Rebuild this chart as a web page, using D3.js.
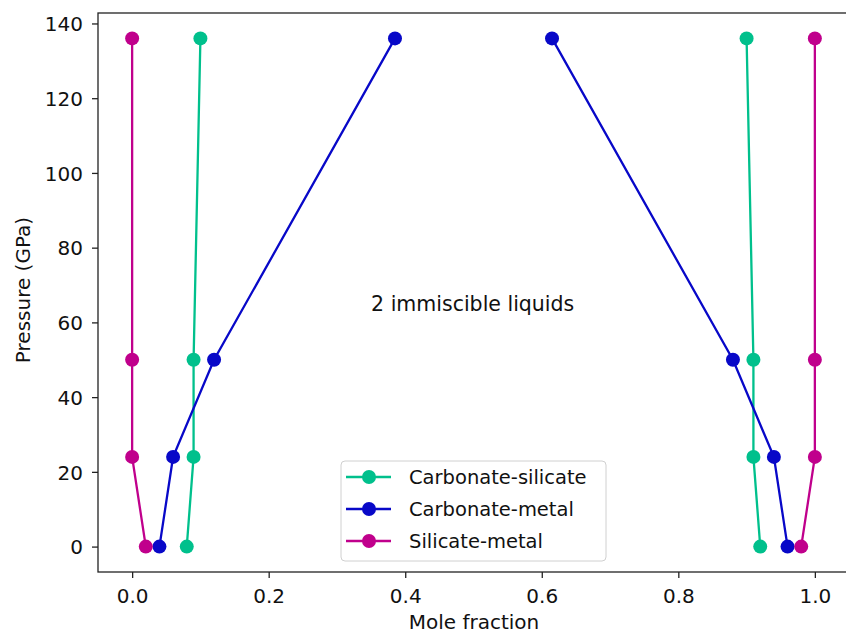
<!DOCTYPE html>
<html>
<head>
<meta charset="utf-8">
<script src="https://cdn.jsdelivr.net/npm/d3@7"></script>
<style>
body { margin: 0; background: #fff; }
text { font-family: "DejaVu Sans", sans-serif; }
</style>
</head>
<body>
<div class="canvas"></div>
<script>
// data
const pressure = [0, 24, 50, 136];
const seriesNames = ['Carbonate-silicate', 'Carbonate-metal', 'Silicate-metal'];
const carbSilLeft = [0.08, 0.09, 0.09, 0.10];
const carbSilRight = [0.92, 0.91, 0.91, 0.90];
const carbMetLeft = [0.04, 0.06, 0.12, 0.385];
const carbMetRight = [0.96, 0.94, 0.88, 0.615];
const silMetLeft = [0.02, 0.0, 0.0, 0.0];
const silMetRight = [0.98, 1.0, 1.0, 1.0];
const xTicks = [0.0, 0.2, 0.4, 0.6, 0.8, 1.0];
const yTicks = [0, 20, 40, 60, 80, 100, 120, 140];
const colors = ['#00c08c', '#0808c8', '#c0008c'];

// dimensions
const width = 846, height = 636;
const margin = {top: 13, right: -3, bottom: 64, left: 98};
const graphWidth = width - margin.left - margin.right;
const graphHeight = height - margin.top - margin.bottom;

const svg = d3.select('.canvas')
  .append('svg')
  .attr('width', width)
  .attr('height', height);

const graph = svg.append('g')
  .attr('transform', `translate(${margin.left},${margin.top})`);

// scales
const x = d3.scaleLinear().domain([-0.05, 1.05]).range([0, graphWidth]);
const y = d3.scaleLinear().domain([-6.8, 142.8]).range([graphHeight, 0]);

// frame
graph.append('rect')
  .attr('width', graphWidth)
  .attr('height', graphHeight)
  .attr('fill', 'none')
  .attr('stroke', '#222')
  .attr('stroke-width', 1.3);

// axes
const xAxis = d3.axisBottom(x).tickValues(xTicks).tickFormat(d3.format('.1f')).tickSize(6).tickSizeOuter(0);
const yAxis = d3.axisLeft(y).tickValues(yTicks).tickFormat(d3.format('d')).tickSize(6).tickSizeOuter(0);

const xAxisGroup = graph.append('g')
  .attr('transform', `translate(0,${graphHeight})`)
  .call(xAxis);
const yAxisGroup = graph.append('g').call(yAxis);

[xAxisGroup, yAxisGroup].forEach(g => {
  g.select('.domain').remove();
  g.selectAll('line').attr('stroke', '#222').attr('stroke-width', 1.3);
  g.selectAll('text').attr('fill', '#111').style('font-size', '20px').style('font-family', '"DejaVu Sans", sans-serif');
});
xAxisGroup.selectAll('text').attr('y', 31).attr('dy', 0);
yAxisGroup.selectAll('text').attr('x', -15).attr('dy', '0.36em');

// axis labels
svg.append('text')
  .attr('x', 474).attr('y', 629)
  .attr('text-anchor', 'middle')
  .style('font-size', '20px')
  .attr('fill', '#111')
  .text('Mole fraction');

svg.append('text')
  .attr('transform', 'translate(30,290) rotate(-90)')
  .attr('text-anchor', 'middle')
  .style('font-size', '20px')
  .attr('fill', '#111')
  .text('Pressure (GPa)');

// lines
const series = [
  [carbSilLeft, carbSilRight],
  [carbMetLeft, carbMetRight],
  [silMetLeft, silMetRight]
];

const line = d3.line()
  .x(d => x(d[0]))
  .y(d => y(d[1]));

series.forEach((branches, i) => {
  branches.forEach(branch => {
    const pts = branch.map((v, j) => [v, pressure[j]]);
    graph.append('path')
      .datum(pts)
      .attr('fill', 'none')
      .attr('stroke', colors[i])
      .attr('stroke-width', 2.3)
      .attr('d', line);
    graph.selectAll(null)
      .data(pts)
      .enter()
      .append('circle')
      .attr('cx', d => x(d[0]))
      .attr('cy', d => y(d[1]))
      .attr('r', 7)
      .attr('fill', colors[i]);
  });
});

// annotation
graph.append('text')
  .attr('x', x(0.35))
  .attr('y', y(63))
  .style('font-size', '20.5px')
  .attr('fill', '#111')
  .text('2 immiscible liquids');

// legend
const legend = svg.append('g').attr('transform', 'translate(341,461)');
legend.append('rect')
  .attr('width', 265)
  .attr('height', 100)
  .attr('rx', 4)
  .attr('fill', '#fff')
  .attr('fill-opacity', 0.8)
  .attr('stroke', '#d0d0d0')
  .attr('stroke-width', 1);

seriesNames.forEach((name, i) => {
  const row = legend.append('g').attr('transform', `translate(0,${16 + i * 32})`);
  row.append('line')
    .attr('x1', 5).attr('x2', 50)
    .attr('stroke', colors[i])
    .attr('stroke-width', 2.3);
  row.append('circle')
    .attr('cx', 28).attr('r', 7)
    .attr('fill', colors[i]);
  row.append('text')
    .attr('x', 68).attr('y', 7)
    .style('font-size', '19.5px')
    .attr('fill', '#111')
    .text(name);
});
</script>
</body>
</html>
